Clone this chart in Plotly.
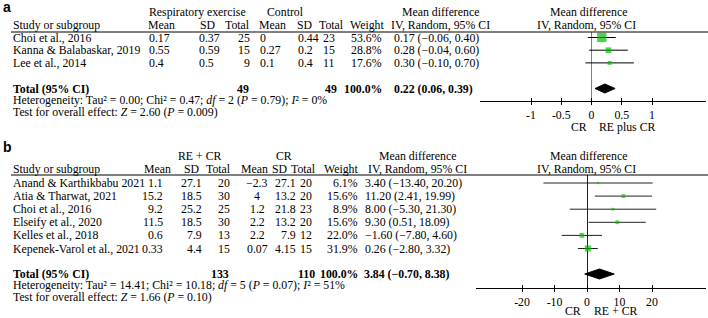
import plotly.graph_objects as go

# ---------------- data ----------------
a_studies = ["Choi et al., 2016", "Kanna & Balabaskar, 2019", "Lee et al., 2014"]
a_exp_mean = ["0.17", "0.55", "0.4"]
a_exp_sd = ["0.37", "0.59", "0.5"]
a_exp_n = [25, 15, 9]
a_ctl_mean = ["0", "0.27", "0.1"]
a_ctl_sd = ["0.44", "0.2", "0.4"]
a_ctl_n = [23, 15, 11]
a_weight = [53.6, 28.8, 17.6]
a_md = [0.17, 0.28, 0.30]
a_lo = [-0.06, -0.04, -0.10]
a_hi = [0.40, 0.60, 0.70]
a_total = dict(n_exp=49, n_ctl=49, weight="100.0%", est=0.22, lo=0.06, hi=0.39)
a_het = "Heterogeneity: Tau\u00b2 = 0.00; Chi\u00b2 = 0.47; <i>df</i> = 2 (<i>P</i> = 0.79); <i>I</i>\u00b2 = 0%"
a_test = "Test for overall effect: <i>Z</i> = 2.60 (<i>P</i> = 0.009)"
a_ticks = [-1, -0.5, 0, 0.5, 1]
a_ticktext = ["-1", "-0.5", "0", "0.5", "1"]

b_studies = ["Anand & Karthikbabu 2021", "Atia & Tharwat, 2021", "Choi et al., 2016",
             "Elseify et al., 2020", "Kelles et al., 2018", "Kepenek-Varol et al., 2021"]
b_exp_mean = ["1.1", "15.2", "9.2", "11.5", "0.6", "0.33"]
b_exp_sd = ["27.1", "18.5", "25.2", "18.5", "7.9", "4.4"]
b_exp_n = [20, 30, 25, 30, 13, 15]
b_ctl_mean = ["\u22122.3", "4", "1.2", "2.2", "2.2", "0.07"]
b_ctl_sd = ["27.1", "13.2", "21.8", "13.2", "7.9", "4.15"]
b_ctl_n = [20, 20, 23, 20, 12, 15]
b_weight = [6.1, 15.6, 8.9, 15.6, 22.0, 31.9]
b_md = [3.40, 11.20, 8.00, 9.30, -1.60, 0.26]
b_lo = [-13.40, 2.41, -5.30, 0.51, -7.80, -2.80]
b_hi = [20.20, 19.99, 21.30, 18.09, 4.60, 3.32]
b_total = dict(n_exp=133, n_ctl=110, weight="100.0%", est=3.84, lo=-0.70, hi=8.38)
b_het = "Heterogeneity: Tau\u00b2 = 14.41; Chi\u00b2 = 10.18; <i>df</i> = 5 (<i>P</i> = 0.07); <i>I</i>\u00b2 = 51%"
b_test = "Test for overall effect: <i>Z</i> = 1.66 (<i>P</i> = 0.10)"
b_ticks = [-20, -10, 0, 10, 20]
b_ticktext = ["-20", "-10", "0", "10", "20"]

# ---------------- helpers ----------------
W, H = 708, 318
SERIF = "'Liberation Serif', 'Times New Roman', serif"
SANS = "'Liberation Sans', Arial, sans-serif"
FS = 11.8
GREEN = "#00C000"


def px(x):
    return x / W


def py(y):
    return 1 - y / H


def fmt(v):
    return f"{v:.2f}".replace("-", "\u2212")


def ci_text(e, lo, hi):
    return f"{fmt(e)} ({fmt(lo)}, {fmt(hi)})"


ann = []


def txt(x, y, s, anchor="left", bold=False, size=FS, family=SERIF):
    if bold:
        s = f"<b>{s}</b>"
    ann.append(dict(x=px(x), y=py(y), xref="paper", yref="paper", text=s,
                    showarrow=False, xanchor=anchor, yanchor="middle", borderpad=0,
                    font=dict(family=family, size=size, color="black")))


def sq_size(w):
    return 1.4 + 0.147 * w


fig = go.Figure()


def add_forest(md, lo, hi, weight, rows, total, ty, dh, xa, ya, ci_color):
    xs, ys = [], []
    for l, h, y in zip(lo, hi, rows):
        xs += [l, h, None]
        ys += [y, y, None]
    fig.add_trace(go.Scatter(x=xs, y=ys, mode="lines", line=dict(color=ci_color, width=1),
                             xaxis=xa, yaxis=ya, hoverinfo="skip"))
    fig.add_trace(go.Scatter(x=md, y=rows, mode="markers",
                             marker=dict(symbol="square", size=[sq_size(w) for w in weight],
                                         color=GREEN, line=dict(width=0)),
                             xaxis=xa, yaxis=ya, hoverinfo="skip"))
    fig.add_trace(go.Scatter(x=[total["lo"], total["est"], total["hi"], total["est"], total["lo"]],
                             y=[ty, ty - dh, ty, ty + dh, ty], mode="lines", fill="toself",
                             fillcolor="black", line=dict(color="black", width=1),
                             xaxis=xa, yaxis=ya, hoverinfo="skip"))


# ---------------- panel a ----------------
A_ROW0, A_STEP = 37.5, 12.7
a_rows = [A_ROW0 + A_STEP * i for i in range(len(a_studies))]
A_TOT, A_HET, A_TEST = 88.5, 99.5, 111.5
A_AXIS, A_TOP = 101, 32
A_ZERO, A_PPU, A_LEFT, A_RIGHT = 591.5, 60.5, 480, 706

txt(2, 7, "a", bold=True, size=14, family=SANS)
txt(198, 12, "Respiratory exercise", "center")
txt(285, 12, "Control", "center")
txt(440, 12, "Mean difference", "center")
txt(588, 12, "Mean difference", "center")
txt(12, 24.5, "Study or subgroup")
txt(147, 24.5, "Mean")
txt(199, 24.5, "SD")
txt(251, 24.5, "Total", "right")
txt(258, 24.5, "Mean")
txt(296, 24.5, "SD")
txt(318, 24.5, "Total")
txt(349, 24.5, "Weight")
txt(440, 24.5, "IV, Random, 95% CI", "center")
txt(586, 24.5, "IV, Random, 95% CI", "center")
for i, y in enumerate(a_rows):
    txt(12, y, a_studies[i])
    txt(148, y, a_exp_mean[i])
    txt(198, y, a_exp_sd[i])
    txt(251, y, str(a_exp_n[i]), "right")
    txt(259, y, a_ctl_mean[i])
    txt(297, y, a_ctl_sd[i])
    txt(322, y, str(a_ctl_n[i]))
    txt(383, y, f"{a_weight[i]:.1f}%", "right")
    txt(393, y, ci_text(a_md[i], a_lo[i], a_hi[i]))
txt(12, A_TOT, "Total (95% CI)", bold=True)
txt(250, A_TOT, str(a_total["n_exp"]), "right", bold=True)
txt(338, A_TOT, str(a_total["n_ctl"]), "right", bold=True)
txt(383, A_TOT, a_total["weight"], "right", bold=True)
txt(393, A_TOT, ci_text(a_total["est"], a_total["lo"], a_total["hi"]), bold=True)
txt(12, A_HET, a_het)
txt(12, A_TEST, a_test)
txt(579, 127, "CR", "center")
txt(627, 127, "RE plus CR", "center")

add_forest(a_md, a_lo, a_hi, a_weight, a_rows, a_total, A_TOT, 4.5, "x", "y", "black")

# ---------------- panel b ----------------
B_ROW0, B_STEP = 183, 13.1
b_rows = [B_ROW0 + B_STEP * i for i in range(len(b_studies))]
B_TOT, B_HET, B_TEST = 274, 284.5, 296.5
B_AXIS, B_TOP = 288, 175
B_ZERO, B_PPU, B_LEFT, B_RIGHT = 587, 3.25, 476, 706

txt(2, 147, "b", bold=True, size=14, family=SANS)
txt(199, 156, "RE + CR", "center")
txt(284, 156, "CR", "center")
txt(417, 156, "Mean difference", "center")
txt(588, 156, "Mean difference", "center")
txt(12, 168.5, "Study or subgroup")
txt(172, 168.5, "Mean", "right")
txt(201, 168.5, "SD", "right")
txt(232, 168.5, "Total", "right")
txt(254, 168.5, "Mean", "center")
txt(289, 168.5, "SD", "right")
txt(317, 168.5, "Total", "right")
txt(360, 168.5, "Weight", "right")
txt(417, 168.5, "IV, Random, 95% CI", "center")
txt(586, 168.5, "IV, Random, 95% CI", "center")
for i, y in enumerate(b_rows):
    txt(12, y, b_studies[i])
    txt(164, y, b_exp_mean[i], "right")
    txt(203, y, b_exp_sd[i], "right")
    txt(231, y, str(b_exp_n[i]), "right")
    txt(257, y, b_ctl_mean[i], "center")
    txt(297, y, b_ctl_sd[i], "right")
    txt(313, y, str(b_ctl_n[i]), "right")
    txt(359, y, f"{b_weight[i]:.1f}%", "right")
    txt(364, y, ci_text(b_md[i], b_lo[i], b_hi[i]))
txt(12, B_TOT, "Total (95% CI)", bold=True)
txt(230, B_TOT, str(b_total["n_exp"]), "right", bold=True)
txt(316, B_TOT, str(b_total["n_ctl"]), "right", bold=True)
txt(359, B_TOT, b_total["weight"], "right", bold=True)
txt(363, B_TOT, ci_text(b_total["est"], b_total["lo"], b_total["hi"]), bold=True)
txt(12, B_HET, b_het)
txt(12, B_TEST, b_test)
txt(573, 311, "CR", "center")
txt(615, 311, "RE + CR", "center")

add_forest(b_md, b_lo, b_hi, b_weight, b_rows, b_total, B_TOT, 5, "x2", "y2", "#222222")

# invisible traces to make overlay tick axes exist
fig.add_trace(go.Scatter(x=[0], y=[A_TOP], mode="markers", marker=dict(opacity=0),
                         xaxis="x3", yaxis="y", hoverinfo="skip"))
fig.add_trace(go.Scatter(x=[0], y=[B_TOP], mode="markers", marker=dict(opacity=0),
                         xaxis="x4", yaxis="y2", hoverinfo="skip"))

shapes = [
    dict(type="line", xref="paper", yref="paper", x0=px(11), x1=1, y0=py(A_TOP), y1=py(A_TOP),
         line=dict(color="black", width=1)),
    dict(type="line", xref="paper", yref="paper", x0=px(11), x1=1, y0=py(B_TOP), y1=py(B_TOP),
         line=dict(color="black", width=1)),
]


def xrange(zero, ppu, left, right):
    return [(left - zero) / ppu, (right - zero) / ppu]


def main_x(dom, rng, tv, tt, zc, anchor):
    return dict(domain=dom, range=rng, anchor=anchor,
                showline=True, linecolor="black", linewidth=1,
                ticks="outside", ticklen=3, tickcolor="black", tickwidth=1,
                tickvals=tv, ticktext=tt,
                tickfont=dict(family=SERIF, size=FS, color="black"),
                zeroline=True, zerolinecolor=zc, zerolinewidth=1,
                showgrid=False, fixedrange=True)


def tick_x(over, anchor, rng, tv):
    return dict(overlaying=over, anchor=anchor, range=rng, side="bottom",
                ticks="inside", ticklen=3, tickcolor="black", tickwidth=1,
                tickvals=tv, showticklabels=False, showline=False,
                zeroline=False, showgrid=False, fixedrange=True)


a_dom = [px(A_LEFT), px(A_RIGHT)]
b_dom = [px(B_LEFT), px(B_RIGHT)]
a_rng = xrange(A_ZERO, A_PPU, A_LEFT, A_RIGHT)
b_rng = xrange(B_ZERO, B_PPU, B_LEFT, B_RIGHT)

fig.update_layout(
    width=W, height=H, autosize=False,
    margin=dict(l=0, r=0, t=0, b=0, pad=0),
    paper_bgcolor="white", plot_bgcolor="rgba(0,0,0,0)",
    showlegend=False,
    xaxis=main_x(a_dom, a_rng, a_ticks, a_ticktext, "#808080", "y"),
    yaxis=dict(domain=[py(A_AXIS), py(A_TOP)], range=[A_AXIS, A_TOP], visible=False,
               anchor="x", fixedrange=True),
    xaxis2=main_x(b_dom, b_rng, b_ticks, b_ticktext, "#222222", "y2"),
    yaxis2=dict(domain=[py(B_AXIS), py(B_TOP)], range=[B_AXIS, B_TOP], visible=False,
                anchor="x2", fixedrange=True),
    xaxis3=tick_x("x", "y", a_rng, a_ticks),
    xaxis4=tick_x("x2", "y2", b_rng, b_ticks),
    annotations=ann,
    shapes=shapes,
)

fig.write_html("out.html", config=dict(displayModeBar=False),
               post_script="document.body.style.margin='0';document.body.style.padding='0';"
                           "document.documentElement.style.overflow='hidden';")
